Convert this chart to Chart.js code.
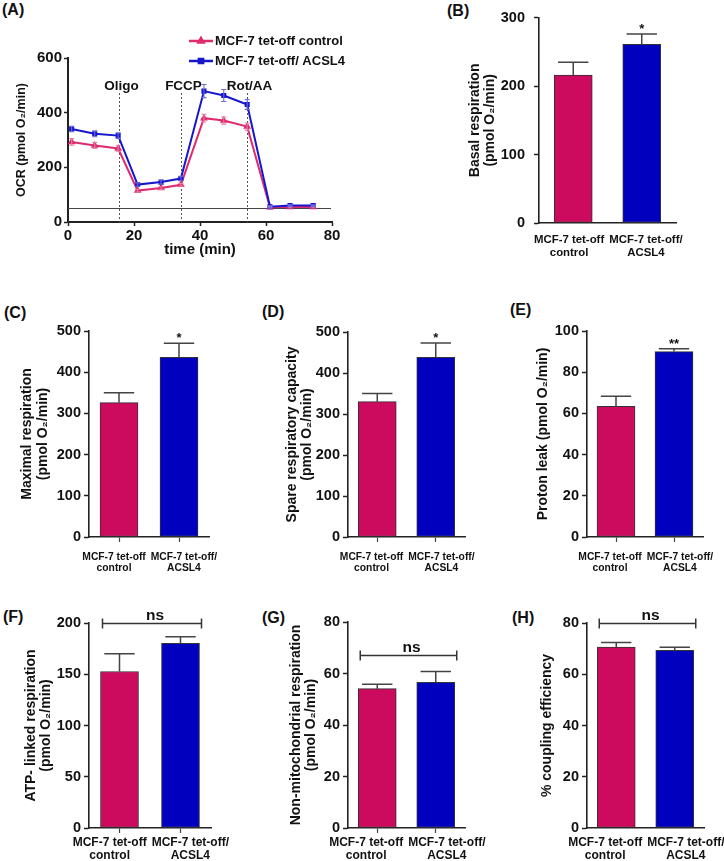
<!DOCTYPE html>
<html>
<head>
<meta charset="utf-8">
<script src="https://cdn.jsdelivr.net/npm/chart.js@4.4.1/dist/chart.umd.min.js"></script>
<style>
  html, body { margin: 0; padding: 0; background: #fff; }
  body { width: 724px; height: 861px; position: relative; overflow: hidden; font-family: "Liberation Sans", Arial, sans-serif; }
  canvas { position: absolute; }
  .tag { position: absolute; font-weight: bold; font-size: 16px; line-height: 16px; color: #111; }
</style>
</head>
<body>
<div class="tag" style="left:2px;top:2px">(A)</div>
<div class="tag" style="left:447px;top:3px">(B)</div>
<div class="tag" style="left:4px;top:305px">(C)</div>
<div class="tag" style="left:262px;top:304px">(D)</div>
<div class="tag" style="left:510px;top:302px">(E)</div>
<div class="tag" style="left:3px;top:609px">(F)</div>
<div class="tag" style="left:262px;top:610px">(G)</div>
<div class="tag" style="left:512px;top:610px">(H)</div>

<canvas id="pA" width="360" height="262" style="left:0;top:0"></canvas>
<canvas id="pB" width="284" height="262" style="left:440px;top:0"></canvas>
<canvas id="pC" width="250" height="300" style="left:0;top:300px"></canvas>
<canvas id="pD" width="250" height="300" style="left:240px;top:300px"></canvas>
<canvas id="pE" width="244" height="300" style="left:480px;top:300px"></canvas>
<canvas id="pF" width="250" height="256" style="left:0;top:605px"></canvas>
<canvas id="pG" width="250" height="256" style="left:240px;top:605px"></canvas>
<canvas id="pH" width="244" height="256" style="left:480px;top:605px"></canvas>

<script>
// ---- data ----
const groups = [['MCF-7 tet-off', 'control'], ['MCF-7 tet-off/', 'ACSL4']];
const seriesNames = ['MCF-7 tet-off control', 'MCF-7 tet-off/ ACSL4'];

// (A) OCR time course
const timeMin = [1.1, 8.1, 15.2, 21.1, 28.2, 34.2, 41.2, 47.2, 54.3, 61.2, 67.3, 74.3];
const ocrControl = [293, 280, 269, 115, 124, 136, 380, 371, 349, 54, 55, 55];
const ocrControlSem = [12, 11, 10, 5, 5, 5, 14, 13, 13, 3, 3, 3];
const ocrAcsl4 = [340, 323, 316, 137, 146, 159, 479, 463, 430, 56, 60, 60];
const ocrAcsl4Sem = [10, 11, 10, 6, 7, 8, 24, 22, 18, 3, 3, 3];
const injectionTimes = [15.4, 34.2, 54.3];
const injectionNames = ['Oligo', 'FCCP', 'Rot/AA'];
const ocrFloor = 50;

// (B)-(H) mean and SEM, [control, ACSL4]
const basalMean = [216, 261],      basalSem = [19, 15];
const maximalMean = [326, 436],    maximalSem = [24, 34];
const spareMean = [330, 438],      spareSem = [20, 35];
const leakMean = [63.4, 90.0],     leakSem = [4.9, 1.4];
const atpMean = [152.7, 180.2],    atpSem = [17.3, 6.5];
const nonMitoMean = [54.1, 56.6],  nonMitoSem = [1.7, 4.2];
const couplingMean = [70.6, 69.3], couplingSem = [1.8, 1.2];

const yMax = [300, 500, 500, 100, 200, 80, 80];
const yStep = [100, 100, 100, 20, 50, 20, 20];
const sigText = ['*', '*', '*', '**', 'ns', 'ns', 'ns'];
const nsLevel = [null, null, null, null, 200, 67, 80];

const O2 = '(pmol O\u2082/min)';
const yTitles = [
  ['Basal respiration', O2],
  ['Maximal respiration', O2],
  ['Spare respiratory capacity', O2],
  'Proton leak ' + O2,
  ['ATP- linked respiration', O2],
  ['Non-mitochondrial respiration', O2],
  '% coupling efficiency'
];

// ---- style ----
const FONT = '"Liberation Sans", Arial, sans-serif';
const PINK = '#CC0A5E', BLUE = '#0000BE';
const LINE_PINK = '#DE2B6E', LINE_BLUE = '#1616CC';
Chart.defaults.font.family = FONT;
Chart.defaults.font.weight = 'bold';
Chart.defaults.color = '#111';

// ---- plugins ----
const errorBars = {
  id: 'errorBars',
  afterDatasetsDraw(chart, args, o) {
    const {ctx} = chart;
    const ys = chart.scales.y;
    chart.data.datasets.forEach((ds, di) => {
      if (!ds.errors) return;
      const meta = chart.getDatasetMeta(di);
      ctx.save();
      ctx.strokeStyle = ds.errorColor || o.color;
      ctx.lineWidth = o.width;
      meta.data.forEach((el, i) => {
        const raw = ds.data[i];
        const v = typeof raw === 'object' ? raw.y : raw;
        const e = ds.errors[i];
        const hi = ys.getPixelForValue(v + e);
        const lo = o.twoSided ? ys.getPixelForValue(v - e) : el.y;
        const half = el.width ? el.width * o.capRatio / 2 : o.cap;
        ctx.beginPath();
        ctx.moveTo(el.x, lo); ctx.lineTo(el.x, hi);
        ctx.moveTo(el.x - half, hi); ctx.lineTo(el.x + half, hi);
        if (o.twoSided) { ctx.moveTo(el.x - half, lo); ctx.lineTo(el.x + half, lo); }
        ctx.stroke();
      });
      ctx.restore();
    });
  }
};

const injections = {
  id: 'injections',
  beforeDatasetsDraw(chart, args, o) {
    const {ctx, chartArea: a, scales: {x, y}} = chart;
    ctx.save();
    const yf = Math.round(y.getPixelForValue(o.floor)) + 0.5;
    ctx.strokeStyle = '#444';
    ctx.lineWidth = 1;
    ctx.beginPath(); ctx.moveTo(a.left, yf); ctx.lineTo(a.right - 1, yf); ctx.stroke();
    ctx.setLineDash([2, 2]);
    ctx.strokeStyle = '#555';
    ctx.font = 'bold 13.5px ' + FONT;
    ctx.textAlign = 'center';
    ctx.textBaseline = 'middle';
    ctx.fillStyle = '#111';
    o.times.forEach((t, i) => {
      const px = Math.round(x.getPixelForValue(t)) + 0.5;
      ctx.beginPath(); ctx.moveTo(px, o.lineTop); ctx.lineTo(px, a.bottom); ctx.stroke();
      ctx.fillText(o.names[i], px + 2, o.labelY);
    });
    ctx.restore();
  }
};

const seriesKey = {
  id: 'seriesKey',
  afterDraw(chart, args, o) {
    const {ctx} = chart;
    ctx.save();
    chart.data.datasets.forEach((ds, i) => {
      const yy = o.y + i * o.dy;
      ctx.strokeStyle = ds.borderColor;
      ctx.fillStyle = ds.borderColor;
      ctx.lineWidth = 2.5;
      ctx.beginPath(); ctx.moveTo(o.x, yy); ctx.lineTo(o.x + o.len, yy); ctx.stroke();
      Chart.helpers.drawPoint(ctx, {pointStyle: ds.pointStyle, radius: 3, rotation: 0, borderWidth: 1}, o.x + o.len / 2, yy);
      ctx.fillStyle = '#111';
      ctx.font = 'bold 13px ' + FONT;
      ctx.textBaseline = 'middle';
      ctx.textAlign = 'left';
      ctx.fillText(ds.label, o.x + o.len + 2, yy);
    });
    ctx.restore();
  }
};

const significance = {
  id: 'significance',
  afterDatasetsDraw(chart, args, o) {
    const {ctx} = chart;
    const ys = chart.scales.y;
    const ds = chart.data.datasets[0];
    const bars = chart.getDatasetMeta(0).data;
    ctx.save();
    ctx.fillStyle = '#111';
    ctx.strokeStyle = '#333';
    ctx.lineWidth = 1.5;
    ctx.textAlign = 'center';
    ctx.textBaseline = 'alphabetic';
    if (o.level != null) {
      const yy = Math.round(ys.getPixelForValue(o.level)) + 0.5;
      const x0 = bars[0].x - bars[0].width / 2 + 2;
      const x1 = bars[1].x + bars[1].width / 2 + 2;
      ctx.beginPath();
      ctx.moveTo(x0, yy); ctx.lineTo(x1, yy);
      ctx.moveTo(x0, yy - 5); ctx.lineTo(x0, yy + 5);
      ctx.moveTo(x1, yy - 5); ctx.lineTo(x1, yy + 5);
      ctx.stroke();
      ctx.font = 'bold 15.5px ' + FONT;
      ctx.fillText(o.text, (x0 + x1) / 2 + 3, yy - 4);
    } else {
      const top = ys.getPixelForValue(ds.data[1] + ds.errors[1]);
      ctx.font = 'bold 13px ' + FONT;
      ctx.fillText(o.text, bars[1].x, top - 1);
    }
    ctx.restore();
  }
};

// category labels pushed apart when they would collide, as in the figure
const groupLabels = {
  id: 'groupLabels',
  afterDraw(chart, args, o) {
    const {ctx} = chart;
    const bars = chart.getDatasetMeta(0).data;
    const base = chart.scales.x.top;
    const labels = chart.data.labels;
    ctx.save();
    ctx.font = 'bold ' + o.size + 'px ' + FONT;
    ctx.fillStyle = '#111';
    ctx.textAlign = 'center';
    ctx.textBaseline = 'middle';
    const widths = labels.map(l => Math.max(...l.map(s => ctx.measureText(s).width)));
    const space = bars[1].x - bars[0].x;
    const push = Math.max(0, (widths[0] + widths[1]) / 2 + o.gap - space) / 2;
    labels.forEach((lines, i) => {
      const cx = bars[i].x + (i === 0 ? -push : push);
      lines.forEach((s, k) => ctx.fillText(s, cx, base + o.offset + k * o.lineGap));
    });
    ctx.restore();
  }
};

// ---- (A) ----
new Chart(document.getElementById('pA'), {
  type: 'line',
  data: {
    datasets: [
      {
        label: seriesNames[0],
        data: timeMin.map((t, i) => ({x: t, y: ocrControl[i]})),
        errors: ocrControlSem,
        errorColor: '#E57FA3',
        borderColor: LINE_PINK, backgroundColor: LINE_PINK,
        pointStyle: 'triangle', pointRadius: 2.5, borderWidth: 2, order: 1
      },
      {
        label: seriesNames[1],
        data: timeMin.map((t, i) => ({x: t, y: ocrAcsl4[i]})),
        errors: ocrAcsl4Sem,
        errorColor: '#6B6BDD',
        borderColor: LINE_BLUE, backgroundColor: LINE_BLUE,
        pointStyle: 'rect', pointRadius: 2.2, borderWidth: 2, order: 0
      }
    ]
  },
  options: {
    responsive: false,
    animation: false,
    layout: {padding: {left: 0, top: 58, right: 28, bottom: 0}},
    plugins: {
      legend: {display: false},
      tooltip: {enabled: false},
      errorBars: {twoSided: true, cap: 2.5, width: 1.1},
      injections: {times: injectionTimes, names: injectionNames, floor: ocrFloor, lineTop: 93, labelY: 86},
      seriesKey: {x: 189, y: 41, dy: 20, len: 24}
    },
    scales: {
      x: {
        type: 'linear', min: 0, max: 80,
        ticks: {stepSize: 20, font: {size: 15, weight: 'bold'}, padding: 1},
        grid: {drawOnChartArea: false, tickLength: 4, tickColor: '#222', tickWidth: 1.5},
        border: {display: true, color: '#222', width: 2},
        title: {display: true, text: 'time (min)', font: {size: 15, weight: 'bold'}, padding: {top: 0, bottom: 3}},
        afterFit: s => { s.height = 40; }
      },
      y: {
        min: 0, max: 600,
        ticks: {stepSize: 200, font: {size: 15, weight: 'bold'}, padding: 2},
        grid: {drawOnChartArea: false, tickLength: 4, tickColor: '#222', tickWidth: 1.5},
        border: {display: true, color: '#222', width: 2},
        title: {display: true, text: 'OCR (pmol O\u2082/min)', font: {size: 12.5, weight: 'bold'}, padding: {top: 14.5, bottom: 0}},
        afterFit: s => { s.width = 68; }
      }
    }
  },
  plugins: [injections, errorBars, seriesKey]
});

// ---- (B)-(H) ----
const barLayout = {
  pB: {box: [440, 0, 284, 262], area: [539, 17, 676, 223], titleX: 475, tickPad: 9, xTicks: false, label: {size: 11.4, offset: 17, lineGap: 12.5, gap: 5}},
  pC: {box: [0, 300, 250, 300], area: [89, 331, 209, 537], titleX: 27.5, tickPad: 3, xTicks: true, label: {size: 10.3, offset: 20.5, lineGap: 11, gap: 5}},
  pD: {box: [240, 300, 250, 300], area: [348, 332, 465, 537], titleX: 292, tickPad: 3, xTicks: true, label: {size: 10.3, offset: 20.5, lineGap: 11, gap: 5}},
  pE: {box: [480, 300, 244, 300], area: [587, 331, 703, 537], titleX: 543.5, tickPad: 3, xTicks: true, label: {size: 10.3, offset: 20.5, lineGap: 11, gap: 5}},
  pF: {box: [0, 605, 250, 256], area: [89, 623, 211, 828], titleX: 31, tickPad: 3, xTicks: true, label: {size: 12, offset: 14.5, lineGap: 12.8, gap: 5}},
  pG: {box: [240, 605, 250, 256], area: [348, 622, 465, 828], titleX: 296, tickPad: 3, xTicks: true, label: {size: 12, offset: 14.5, lineGap: 12.8, gap: 5}},
  pH: {box: [480, 605, 244, 256], area: [587, 623, 704, 828], titleX: 547.5, tickPad: 3, xTicks: false, label: {size: 12, offset: 14.5, lineGap: 12.8, gap: 5}}
};

const barIds = ['pB', 'pC', 'pD', 'pE', 'pF', 'pG', 'pH'];
const barMeans = [basalMean, maximalMean, spareMean, leakMean, atpMean, nonMitoMean, couplingMean];
const barSems = [basalSem, maximalSem, spareSem, leakSem, atpSem, nonMitoSem, couplingSem];

barIds.forEach((id, p) => {
  const L = barLayout[id];
  const [bx, by, bw, bh] = L.box;
  const [ax0, ay0, ax1, ay1] = L.area;
  const titleSize = 14, titleLH = 1.1;
  new Chart(document.getElementById(id), {
    type: 'bar',
    data: {
      labels: groups,
      datasets: [{
        data: barMeans[p],
        errors: barSems[p],
        backgroundColor: [PINK, BLUE],
        borderColor: '#333',
        borderWidth: 1,
        borderSkipped: false,
        barThickness: 38
      }]
    },
    options: {
      responsive: false,
      animation: false,
      layout: {padding: {left: 0, top: ay0 - by, right: bx + bw - ax1, bottom: 0}},
      plugins: {
        legend: {display: false},
        tooltip: {enabled: false},
        errorBars: {twoSided: false, capRatio: 0.8, color: '#444', width: 1.5},
        significance: {text: sigText[p], level: nsLevel[p]},
        groupLabels: L.label
      },
      scales: {
        x: {
          ticks: {display: false},
          grid: {offset: false, drawOnChartArea: false, drawTicks: L.xTicks, tickLength: 5, tickColor: '#444', tickWidth: 1.2},
          border: {display: true, color: '#222', width: 1.6},
          afterFit: s => { s.height = by + bh - ay1; }
        },
        y: {
          min: 0, max: yMax[p],
          ticks: {stepSize: yStep[p], font: {size: 14.5, weight: 'bold'}, padding: L.tickPad},
          grid: {drawOnChartArea: false, tickLength: 5, tickColor: '#222', tickWidth: 1.5},
          border: {display: true, color: '#222', width: 1.6},
          title: {
            display: true, text: yTitles[p],
            font: {size: titleSize, weight: 'bold', lineHeight: titleLH},
            padding: {top: L.titleX - bx - titleSize * titleLH / 2, bottom: 0}
          },
          afterFit: s => { s.width = ax0 - bx; }
        }
      }
    },
    plugins: [errorBars, significance, groupLabels]
  });
});
</script>
</body>
</html>
